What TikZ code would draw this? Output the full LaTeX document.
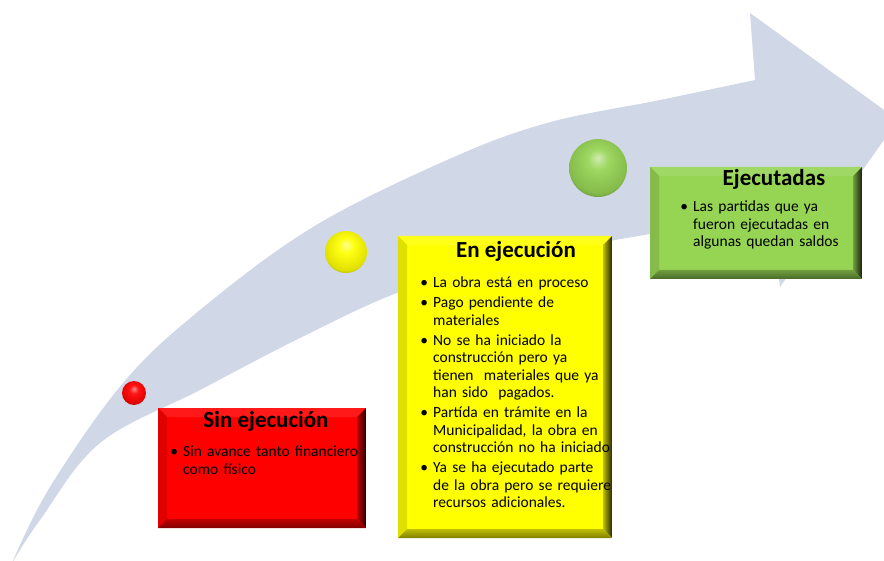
\documentclass[tikz,border=0pt]{standalone}
\usepackage{fontspec}
\setmainfont{Carlito}
\usepackage{enumitem}
\setlist[itemize]{label=\textbullet, leftmargin=12pt, labelsep=5pt, topsep=0pt, partopsep=0pt, parsep=0pt, itemsep=2.5pt}
\usetikzlibrary{calc}

\definecolor{banda}{RGB}{208,215,230}
\definecolor{rojo}{RGB}{255,0,0}
\definecolor{amarillo}{RGB}{255,255,0}
\definecolor{verde}{RGB}{150,212,84}
\colorlet{bolac}{rojo}
\pgfdeclareradialshading[bolac]{bola3d}{\pgfpoint{0bp}{9bp}}{color(0bp)=(bolac!45!white); color(9bp)=(bolac!92!white); color(26bp)=(bolac!88!black); color(33bp)=(bolac!60!black); color(50bp)=(bolac!60!black)}

\tikzset{
	bevelbox/.style={inner sep=0pt, fill=#1, path picture={
		\path (path picture bounding box.north west) coordinate (bnw)
			(path picture bounding box.south east) coordinate (bse);
		\fill[#1!90!white] (bnw) -- (bnw -| bse) -- ([shift={(-9pt,-9pt)}]bnw -| bse) -- ([shift={(9pt,-9pt)}]bnw) -- cycle;
		\fill[#1!88!black] (bnw) -- ([shift={(9pt,-9pt)}]bnw) -- ([shift={(9pt,9pt)}]bse -| bnw) -- (bse -| bnw) -- cycle;
		\shade[left color=#1!75!black, right color=#1!15!black] (bnw -| bse) -- (bse) -- ([shift={(-9pt,9pt)}]bse) -- ([shift={(-9pt,-9pt)}]bnw -| bse) -- cycle;
		\shade[top color=#1!75!black, bottom color=#1!50!black] (bse -| bnw) -- (bse) -- ([shift={(-9pt,9pt)}]bse) -- ([shift={(9pt,9pt)}]bse -| bnw) -- cycle;
	}},
	bola/.style={circle, inner sep=0pt, /utils/exec={\colorlet{bolac}{#1}}, shading=bola3d},
	titulo/.style={font=\fontsize{23}{26}\selectfont\bfseries, anchor=base, inner sep=0pt},
	lista/.style={font=\fontsize{15.5}{17.5}\selectfont, anchor=north west, inner sep=0pt, text width=#1, align=left}
}

\begin{document}
\begin{tikzpicture}[x=1pt, y=-1pt]
	\useasboundingbox (0,0) rectangle (884,561);
	\clip (0,0) rectangle (884,561);

	\fill[banda] plot[smooth, tension=0.6] coordinates {(12,563) (50,487) (123,383) (200,310) (313,227) (447,160) (547,123) (660,100) (755,80)}
		-- (750,13) -- (898,120) -- (780,287) -- (772,220)
		-- plot[smooth, tension=0.6] coordinates {(650,234) (500,262) (397,293) (300,338) (200,390) (100,443) (40,520) (12,563)} -- cycle;

	\node[bola=rojo, minimum size=24pt] (sinball) at (134,393) {};
	\node[bola=amarillo, minimum size=42pt] (enball) at (346,252) {};
	\node[bola=verde, minimum size=58pt] (ejball) at (598,168) {};

	\node[bevelbox=rojo, minimum width=208pt, minimum height=120pt] (sinbox) at (262,468) {};
	\node[bevelbox=amarillo, minimum width=214pt, minimum height=302pt] (enbox) at (505,387) {};
	\node[bevelbox=verde, minimum width=212pt, minimum height=112pt] (ejbox) at (756,223) {};

	\node[titulo] (sintitle) at (266,428) {Sin ejecución};
	\node[titulo] (entitle) at (516,258) {En ejecución};
	\node[titulo] (ejtitle) at (774,186) {Ejecutadas};

	\node[lista=200pt] (sinlist) at (171,439) {
		\begin{itemize}
			\item Sin avance tanto financiero\\como físico
		\end{itemize}};
	\node[lista=200pt] (enlist) at (421,270) {
		\begin{itemize}
			\item La obra está en proceso
			\item Pago pendiente de\\materiales
			\item No se ha iniciado la\\construcción pero ya\\tienen\ \ materiales que ya\\han sido\ \ pagados.
			\item Partída en trámite en la\\Municipalidad, la obra en\\construcción no ha iniciado
			\item Ya se ha ejecutado parte\\de la obra pero se requiere\\recursos adicionales.
		\end{itemize}};
	\node[lista=200pt] (ejlist) at (681,194) {
		\begin{itemize}
			\item Las partidas que ya\\fueron ejecutadas en\\algunas quedan saldos
		\end{itemize}};
\end{tikzpicture}
\end{document}
